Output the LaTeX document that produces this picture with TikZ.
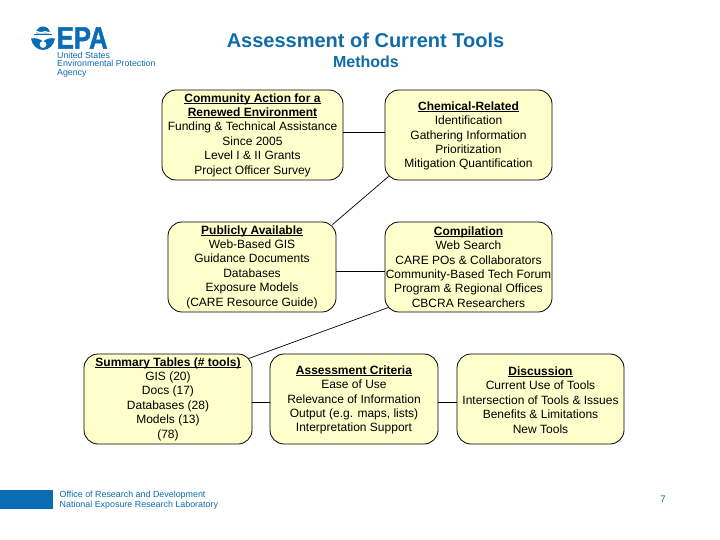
\documentclass[tikz,border=0pt]{standalone}
\usepackage{fontspec}
\setmainfont{Liberation Sans}
\newfontfamily\epafont[BoldFeatures={FakeBold=1.6}]{Liberation Sans}
\definecolor{epablue}{HTML}{0A6CB4}
\definecolor{titleblue}{HTML}{106CA8}
\definecolor{boxfill}{HTML}{FFFFCC}
\tikzset{
  box/.style={draw=black,line width=0.8pt,fill=boxfill,rounded corners=14pt,minimum width=#1,minimum height=90pt,inner sep=0pt,align=center,font=\fontsize{12}{14.4}\selectfont,text=black},
  link/.style={draw=black,line width=0.7pt},
  title/.style={inner sep=0pt,text=titleblue},
  logotext/.style={inner sep=0pt,anchor=west,text=epablue,text height=6.3pt,text depth=1.6pt,font=\fontsize{8.8}{9}\selectfont},
  foot/.style={inner sep=0pt,anchor=west,text=epablue,font=\fontsize{8.9}{10}\selectfont}
}
\newcommand{\hd}[1]{\setbox0\hbox{\textbf{#1}}\makebox[0pt][l]{\rule[-1.4pt]{\wd0}{0.8pt}}\box0 }
\newcommand{\lowered}{\rule{0pt}{10.8pt}}
\begin{document}
\begin{tikzpicture}[x=1pt,y=-1pt]
\useasboundingbox (0,0) rectangle (720,540);
\node[title,font=\fontsize{20}{22}\bfseries\selectfont] (t1) at (365.5,40) {Assessment of Current Tools};
\node[title,font=\fontsize{16}{18}\bfseries\selectfont] (t2) at (366,61.5) {Methods};
% logo
\fill[epablue] (36,33.5) arc[start angle=180,end angle=360,radius=7] -- cycle;
\fill[white] (34,31.6) .. controls (38,29.6) and (40,33.4) .. (43,31.6) .. controls (46,29.8) and (48,33.4) .. (52,31.6) -- (52,33) .. controls (48,34.8) and (46,31.4) .. (43,33) .. controls (40,34.6) and (38,31.2) .. (34,33) -- cycle;
\fill[epablue] (34,33.8) rectangle (52,35.4);
\fill[epablue] (31,38.5) .. controls (36,37.5) and (40,39) .. (43,41.5) .. controls (46,39) and (50,37.5) .. (55,38.5) .. controls (54,45) and (49,50) .. (43,50) .. controls (37,50) and (32,45) .. (31,38.5) -- cycle;
\fill[white] (43,44.5) circle (3.4);
\node[inner sep=0pt,text=epablue,text height=22pt,text depth=0pt,font=\fontsize{31}{31}\epafont\bfseries\selectfont,anchor=west,xscale=0.83] (epa) at (56.5,37.6) {EPA};
\node[logotext] (l1) at (57,56) {United States};
\node[logotext] (l2) at (57,64.6) {Environmental Protection};
\node[logotext] (l3) at (57,73.2) {Agency};
% boxes
\node[box=181pt] (b1) at (252.5,135) {\hd{Community Action for a}\\\hd{Renewed Environment}\\Funding \& Technical Assistance\\Since 2005\\Level I \& II Grants\\Project Officer Survey};
\node[box=167pt] (b2) at (468.5,135) {\lowered\hd{Chemical-Related}\\Identification\\Gathering Information\\Prioritization\\Mitigation Quantification};
\node[box=168pt] (b3) at (252,267) {\hd{Publicly Available}\\Web-Based GIS\\Guidance Documents\\Databases\\Exposure Models\\(CARE Resource Guide)};
\node[box=167pt] (b4) at (468.5,267) {\hd{Compilation}\\Web Search\\CARE POs \& Collaborators\\Community-Based Tech Forum\\Program \& Regional Offices\\CBCRA Researchers};
\node[box=168pt] (b5) at (168,399) {\hd{Summary Tables (\# tools)}\\GIS (20)\\Docs (17)\\Databases (28)\\Models (13)\\(78)};
\node[box=168pt] (b6) at (354,399) {\lowered\hd{Assessment Criteria}\\Ease of Use\\Relevance of Information\\Output (e.g. maps, lists)\\Interpretation Support};
\node[box=167pt] (b7) at (540.5,399) {\lowered\hd{Discussion}\\Current Use of Tools\\Intersection of Tools \& Issues\\Benefits \& Limitations\\New Tools};
% connectors
\draw[link] ([yshift=3pt]b1.east) -- ([yshift=3pt]b2.west);
\draw[link] ([shift={(4,-4)}]b2.south west) -- ([shift={(-4,3)}]b3.north east);
\draw[link] ([yshift=-4pt]b3.east) -- ([yshift=-4pt]b4.west);
\draw[link] ([shift={(4,-5)}]b4.south west) -- ([shift={(-4,5)}]b5.north east);
\draw[link] ([yshift=-3pt]b5.east) -- ([yshift=-3pt]b6.west);
\draw[link] ([yshift=-3pt]b6.east) -- ([yshift=-3pt]b7.west);
% footer
\fill[epablue] (0,490) rectangle (53,509);
\node[foot] (f1) at (59.5,495) {Office of Research and Development};
\node[foot] (f2) at (59.5,505) {National Exposure Research Laboratory};
\node[inner sep=0pt,text=titleblue,font=\fontsize{9.5}{10}\selectfont] (pg) at (663,499.5) {7};
\end{tikzpicture}
\end{document}
